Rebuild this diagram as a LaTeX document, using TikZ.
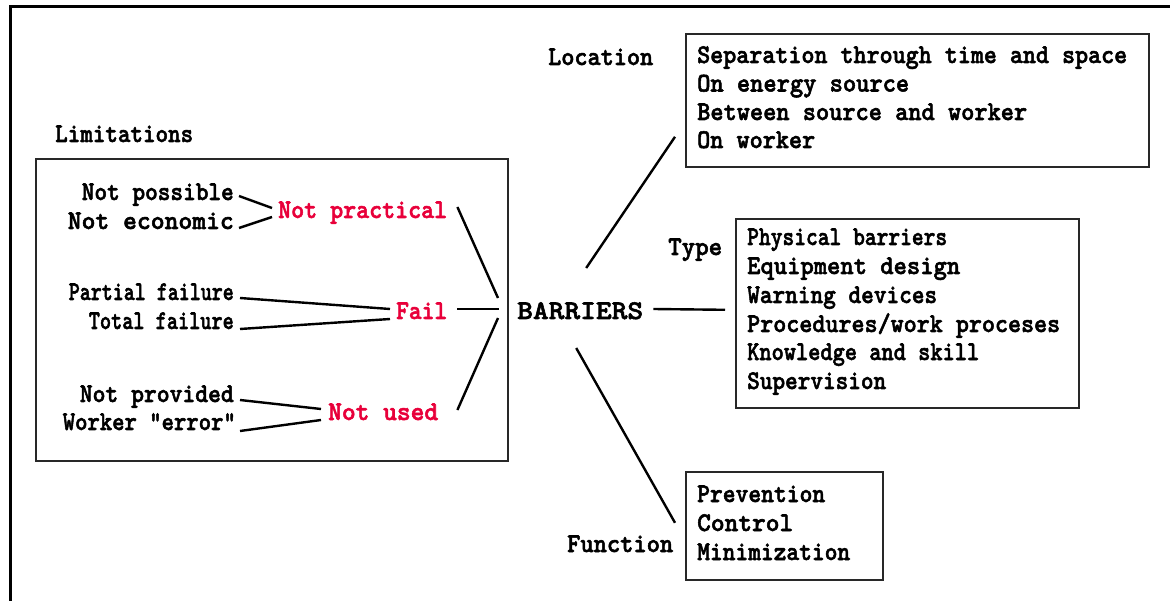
\documentclass[tikz,border=0pt]{standalone}
\usepackage{fontspec}
\usepackage{graphicx}
\usetikzlibrary{calc}
% a heavy slab-serif typewriter face
\newfontfamily\heavytt{lmmonolt10-bold.otf}[FakeBold=2]
\definecolor{barred}{RGB}{232,0,58}
\definecolor{boxline}{RGB}{40,40,40}
% set a text line to a given width, keeping its height
\newcommand\fitw[2]{\resizebox{#1pt}{\height}{#2}}
\tikzset{
  lbl/.style={inner sep=0pt, font=\fontsize{27}{29}\selectfont\heavytt},
  redlbl/.style={lbl, text=barred},
  listbox/.style={draw=boxline, line width=1.6pt, anchor=north west, inner sep=0pt},
  conn/.style={line width=2.4pt},
}
\begin{document}
\begin{tikzpicture}[x=1pt,y=-1pt]
\useasboundingbox (0,0) rectangle (1170,601);
% page frame (top and left)
\draw[line width=3pt] (10,601) -- (10,7) -- (1170,7);

% boxes
\node[listbox, minimum width=472pt, minimum height=302pt] (limbox) at (35,158) {};
\node[listbox, minimum width=463pt, minimum height=133pt] (locbox) at (685,33) {};
\node[listbox, minimum width=343pt, minimum height=189pt] (typebox) at (735,218) {};
\node[listbox, minimum width=197pt, minimum height=108pt] (funcbox) at (685,471) {};

% limitations
\node[lbl, anchor=base west] (lim) at (55,142) {\fitw{138}{Limitations}};
\node[lbl, anchor=base east] (np)  at (234,200) {\fitw{152}{Not possible}};
\node[lbl, anchor=base east] (ne)  at (234,229) {\fitw{166}{Not economic}};
\node[lbl, anchor=base east] (pf)  at (234,300) {\fitw{165}{Partial failure}};
\node[lbl, anchor=base east] (tf)  at (234,329) {\fitw{145}{Total failure}};
\node[lbl, anchor=base east] (npv) at (234,402) {\fitw{154}{Not provided}};
\node[lbl, anchor=base east] (we)  at (236,430) {\fitw{173}{Worker “error”}};
\node[redlbl, anchor=base west] (npr)  at (278,218) {\fitw{169}{Not practical}};
\node[redlbl, anchor=base west] (fail) at (396,319) {\fitw{51}{Fail}};
\node[redlbl, anchor=base west] (nu)   at (328,420) {\fitw{110}{Not used}};

% centre
\node[lbl, anchor=base west] (bar) at (517,319) {\fitw{126}{BARRIERS}};

% location
\node[lbl, anchor=base west] (loclbl) at (548,65) {\fitw{105}{Location}};
\node[lbl, anchor=base west] (loc1) at (697,63)  {\fitw{430}{Separation through time and space}};
\node[lbl, anchor=base west] (loc2) at (697,91.5) {\fitw{212}{On energy source}};
\node[lbl, anchor=base west] (loc3) at (697,120) {\fitw{330}{Between source and worker}};
\node[lbl, anchor=base west] (loc4) at (697,148) {\fitw{118}{On worker}};

% type
\node[lbl, anchor=base west] (typelbl) at (668,255) {\fitw{54}{Type}};
\node[lbl, anchor=base west] (ty1) at (747,245) {\fitw{200}{Physical barriers}};
\node[lbl, anchor=base west] (ty2) at (747,274) {\fitw{213}{Equipment design}};
\node[lbl, anchor=base west] (ty3) at (747,303) {\fitw{190}{Warning devices}};
\node[lbl, anchor=base west] (ty4) at (747,332) {\fitw{313}{Procedures/work proceses}};
\node[lbl, anchor=base west] (ty5) at (747,360) {\fitw{232}{Knowledge and skill}};
\node[lbl, anchor=base west] (ty6) at (747,389) {\fitw{139}{Supervision}};

% function
\node[lbl, anchor=base west] (funclbl) at (567,552) {\fitw{106}{Function}};
\node[lbl, anchor=base west] (fu1) at (697,502) {\fitw{128}{Prevention}};
\node[lbl, anchor=base west] (fu2) at (697,531) {\fitw{96}{Control}};
\node[lbl, anchor=base west] (fu3) at (697,560) {\fitw{153}{Minimization}};

% connectors on the limitations side
\draw[conn] ([shift={(5,-4)}]np.base east) -- ([shift={(-6,-10)}]npr.base west);
\draw[conn] ([shift={(5,-1)}]ne.base east) -- ([shift={(-6,-1)}]npr.base west);
\draw[conn] ([shift={(6,-2)}]pf.base east) -- ([shift={(-6,-10)}]fail.base west);
\draw[conn] ([shift={(6,0)}]tf.base east) -- ([shift={(-6,0)}]fail.base west);
\draw[conn] ([shift={(6,-2)}]npv.base east) -- ([shift={(-7,-11)}]nu.base west);
\draw[conn] ([shift={(4,1)}]we.base east) -- ([shift={(-7,0)}]nu.base west);
\draw[conn] ([shift={(10,-11)}]npr.base east) -- ([shift={(-19,-21)}]bar.base west);
\draw[conn] ([shift={(10,-10)}]fail.base east) -- ([shift={(-18,-10)}]bar.base west);
\draw[conn] ([shift={(19,-10)}]nu.base east) -- ([shift={(-19,-1)}]bar.base west);

% connectors from the centre
\draw[conn] ([shift={(10,-10)}]bar.base east) -- ([shift={(-10,-3.5)}]typebox.west);
\draw[conn] ([shift={(6,-51)}]bar.base) -- ([shift={(-10,36.5)}]locbox.west);
\draw[conn] ([shift={(-4,29)}]bar.base) -- ([shift={(-10,-3)}]funcbox.west);
\end{tikzpicture}
\end{document}
